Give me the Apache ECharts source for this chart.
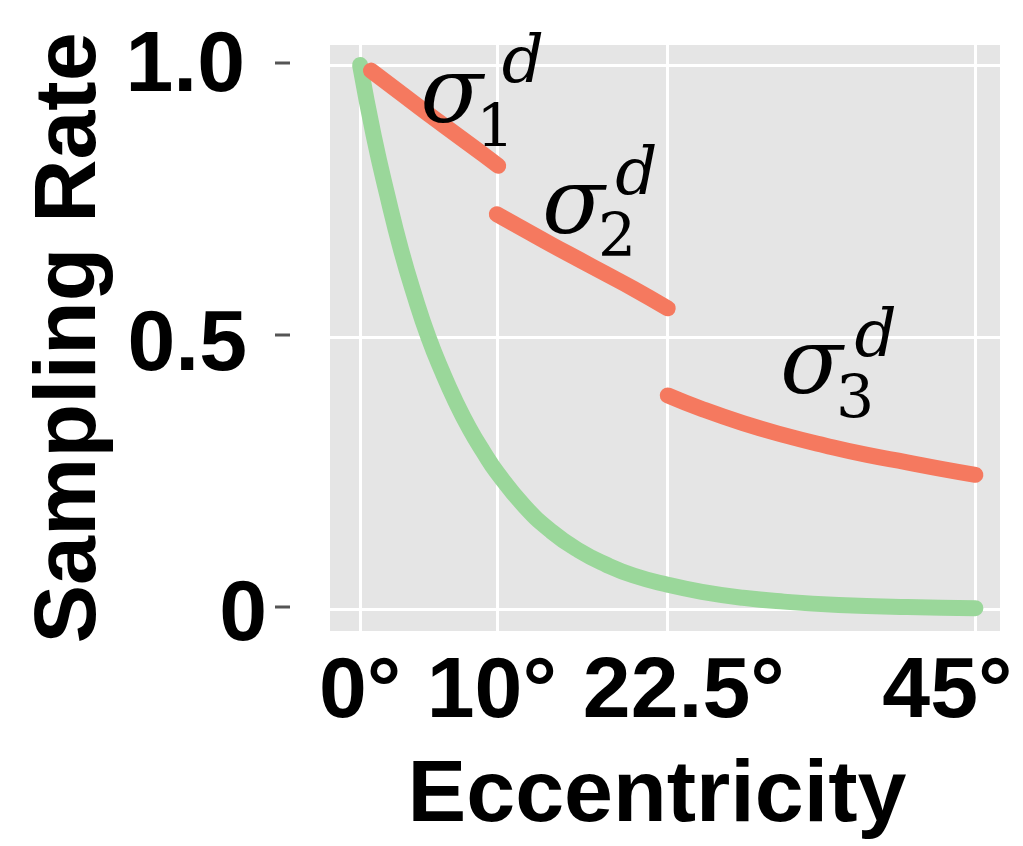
<!DOCTYPE html>
<html>
<head>
<meta charset="utf-8">
<style>
  html, body { margin: 0; padding: 0; background: #fff; }
  #chart { width: 1023px; height: 846px; }
</style>
<script src="https://cdn.jsdelivr.net/npm/echarts@6/dist/echarts.min.js"></script>
</head>
<body>
<div id="chart"></div>
<script>
// tick positions and labels
const xTicks = [0, 10, 22.5, 45];
const xTickLabels = ['0°', '10°', '22.5°', '45°'];
const yTicks = [0, 0.5, 1];
const yTickLabels = ['0', '0.5', '1.0'];

// green curve (eccentricity, rate)
const greenX = [0, 1, 2, 3, 4, 5, 6, 7, 8, 9, 10, 12, 14, 16, 18, 20, 22.5, 25, 28, 31, 35, 40, 45];
const greenY = [1.0, 0.87, 0.76, 0.66, 0.575, 0.5, 0.437, 0.381, 0.332, 0.29, 0.252, 0.19, 0.143, 0.108, 0.082, 0.062, 0.045, 0.032, 0.021, 0.014, 0.008, 0.004, 0.002];

// red segments sigma_1..3
const seg1X = [0.8, 3, 5, 7, 9, 10.1];
const seg1Y = [0.99, 0.948, 0.91, 0.873, 0.836, 0.815];
const seg2X = [10, 12, 14, 16, 18, 20, 22.5];
const seg2Y = [0.726, 0.698, 0.67, 0.643, 0.616, 0.589, 0.553];
const seg3X = [22.5, 25, 28, 31, 34, 37, 40, 42.5, 45];
const seg3Y = [0.393, 0.368, 0.342, 0.32, 0.301, 0.284, 0.27, 0.258, 0.247];

// annotation anchors: [x, y] in data space
const sigmaLabels = ['1', '2', '3'];
const sigmaPos = [[6.7, 0.94], [15.6, 0.735], [33.0, 0.441]];
const subPos = [[9.9, 0.878], [18.8, 0.678], [36.2, 0.38]];
const supPos = [[11.9, 1.0], [20.2, 0.795], [37.7, 0.497]];

const zip = (xs, ys) => xs.map((x, i) => [x, ys[i]]);

const RED = '#f5795f';
const GREEN = '#9ad79a';
const FONT = 'Liberation Sans';
const SERIF = 'DejaVu Serif';

const chart = echarts.init(document.getElementById('chart'));

const marks = [];
sigmaLabels.forEach((s, i) => {
  marks.push({ coord: sigmaPos[i], label: { formatter: 'σ', fontSize: 92, fontStyle: 'italic' } });
  marks.push({ coord: subPos[i], label: { formatter: s, fontSize: 60 } });
  marks.push({ coord: supPos[i], label: { formatter: 'd', fontSize: 66, fontStyle: 'italic' } });
});

const lineSeries = (data, color) => ({
  type: 'line',
  data: data,
  smooth: true,
  symbol: 'none',
  lineStyle: { color: color, width: 16, cap: 'round' },
  silent: true,
  z: 3
});

const labelStyle = { fontFamily: FONT, fontWeight: 'bold', fontSize: 86, color: '#000' };
const yRichKeys = ['a', 'b', 'c'];

chart.setOption({
  animation: false,
  grid: { left: 330, right: 23, top: 45, bottom: 214, show: true, backgroundColor: '#e5e5e5', borderWidth: 0 },
  xAxis: {
    type: 'value',
    min: -2.2,
    max: 46.8,
    axisLine: { show: false },
    axisTick: { show: false, customValues: xTicks },
    splitLine: { show: true, lineStyle: { color: '#ffffff', width: 3 } },
    axisLabel: Object.assign({
      customValues: xTicks,
      margin: 19,
      formatter: (v) => {
        const i = xTicks.indexOf(v);
        const t = xTickLabels[i];
        if (i === 1) return '{l|' + t + '}';
        if (i === 2) return '{r|' + t + '}';
        if (i === 3) return '{ll|' + t + '}';
        return t;
      },
      rich: {
        l: Object.assign({ padding: [0, 10, 0, 0] }, labelStyle),
        r: Object.assign({ padding: [0, 0, 0, 32] }, labelStyle),
        ll: Object.assign({ padding: [0, 56, 0, 0] }, labelStyle)
      }
    }, labelStyle),
    name: 'Eccentricity',
    nameLocation: 'middle',
    nameGap: 122,
    nameTextStyle: { color: '#000', fontFamily: FONT, fontWeight: 'bold', fontSize: 88, padding: [0, 16, 0, 0] }
  },
  yAxis: {
    type: 'value',
    min: -0.04,
    max: 1.037,
    offset: 40,
    axisLine: { show: false },
    axisTick: { show: false, customValues: yTicks },
    splitLine: { show: true, lineStyle: { color: '#ffffff', width: 3 } },
    axisLabel: Object.assign({
      customValues: yTicks,
      margin: 23,
      formatter: (v) => {
        const i = yTicks.indexOf(v);
        return '{' + yRichKeys[i] + '|' + yTickLabels[i] + '}';
      },
      rich: {
        a: Object.assign({ padding: [14, 0, 0, 0] }, labelStyle),
        b: Object.assign({ padding: [18, 20, 0, 0] }, labelStyle),
        c: Object.assign({ padding: [4, 22, 0, 0] }, labelStyle)
      }
    }, labelStyle),
    name: 'Sampling Rate',
    nameLocation: 'middle',
    nameGap: 174,
    nameTextStyle: { color: '#000', fontFamily: FONT, fontWeight: 'bold', fontSize: 88 }
  },
  series: [
    lineSeries(zip(greenX, greenY), GREEN),
    lineSeries(zip(seg1X, seg1Y), RED),
    lineSeries(zip(seg2X, seg2Y), RED),
    Object.assign(lineSeries(zip(seg3X, seg3Y), RED), {
      markPoint: {
        symbol: 'circle',
        symbolSize: 1,
        itemStyle: { color: 'rgba(0,0,0,0)' },
        label: { show: true, position: 'inside', color: '#000', fontFamily: SERIF },
        data: marks,
        z: 5
      }
    })
  ]
});

// y ticks: short grey dashes left of the plot, placed by the axis scale
const tickX = chart.convertToPixel({ gridIndex: 0 }, [-2.2, 0])[0] - 40;
chart.setOption({
  graphic: yTicks.map((v) => {
    const y = Math.round(chart.convertToPixel({ yAxisIndex: 0 }, v)) - 2;
    return {
      type: 'line',
      shape: { x1: tickX - 15, y1: y, x2: tickX, y2: y },
      style: { stroke: '#555', lineWidth: 3 },
      silent: true
    };
  })
});
</script>
</body>
</html>
